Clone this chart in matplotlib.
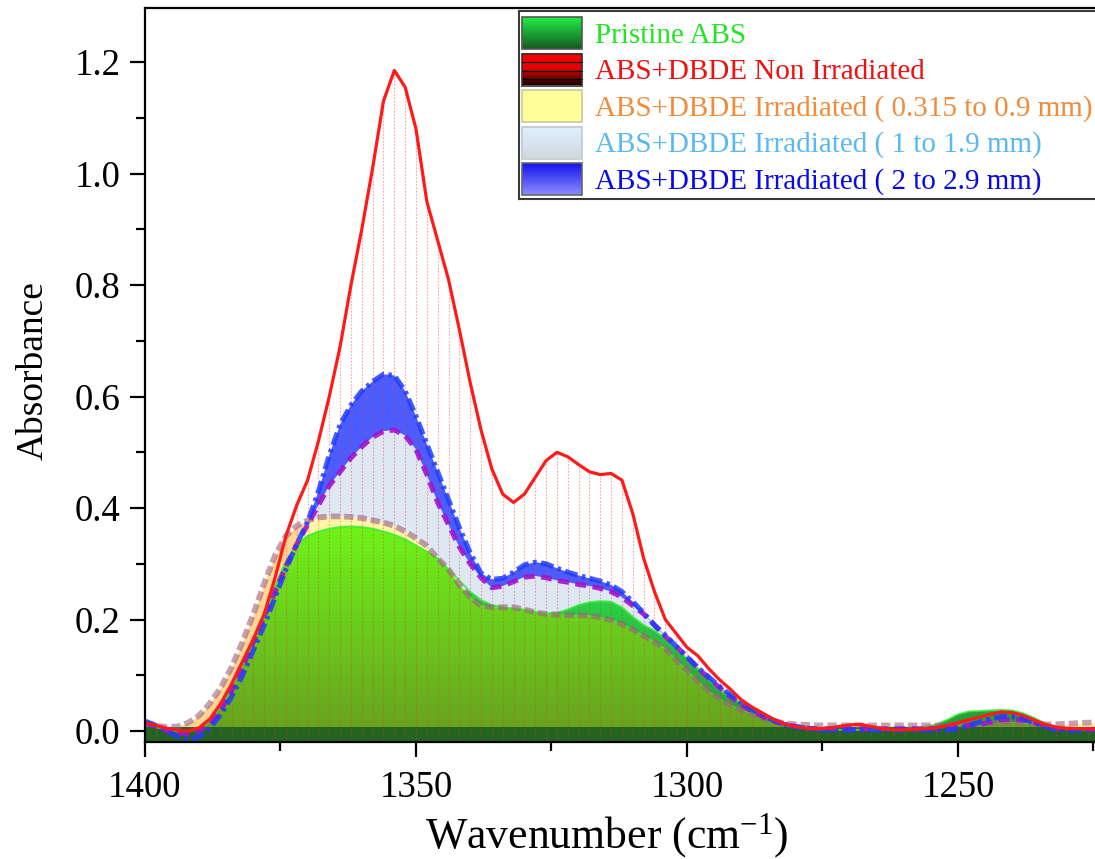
import numpy as np
import matplotlib
matplotlib.use("Agg")
import matplotlib.pyplot as plt
from matplotlib.colors import LinearSegmentedColormap, to_rgb
from matplotlib.patches import Rectangle
from matplotlib.ticker import MultipleLocator, FormatStrFormatter

plt.rcParams["font.family"] = ["Liberation Serif", "DejaVu Serif"]
plt.rcParams["mathtext.fontset"] = "custom"
plt.rcParams["mathtext.rm"] = "Liberation Serif"
plt.rcParams["mathtext.it"] = "Liberation Serif:italic"

# ---------------------------------------------------------------- data
# sampling grid (cm^-1), 1400 -> 1224 every 2 cm^-1
wavenumber = np.arange(1400, 1223, -2)

pristine_abs = np.array([
    .012, .007, .002, -.001, -.001, .004, .018, .045, .080, .120,
    .160, .205, .260, .305, .335, .350, .358, .363, .366, .367,
    .366, .363, .358, .352, .344, .333, .322, .310, .290, .270,
    .250, .235, .226, .222, .220, .218, .214, .211, .212, .218,
    .226, .231, .233, .232, .222, .205, .190, .180, .166, .148,
    .130, .112, .092, .074, .060, .050, .040, .031, .022, .014,
    .009, .005, .003, .002, .002, .002, .002, .002, .002, .002,
    .003, .005, .008, .012, .020, .030, .035, .036, .037, .038,
    .037, .032, .024, .014, .007, .004, .003, .002, .002])

non_irradiated = np.array([
    .015, .010, .005, .001, .000, .006, .022, .050, .085, .125,
    .165, .210, .275, .350, .405, .450, .520, .600, .690, .800,
    .900, 1.010, 1.130, 1.185, 1.155, 1.080, .950, .880, .810, .720,
    .625, .540, .470, .425, .410, .425, .455, .485, .500, .492,
    .478, .465, .460, .462, .450, .390, .310, .250, .200, .175,
    .150, .135, .112, .092, .075, .056, .043, .032, .021, .013,
    .008, .005, .004, .005, .008, .011, .012, .008, .004, .002,
    .002, .003, .004, .006, .010, .015, .020, .025, .030, .034,
    .033, .028, .020, .012, .007, .005, .004, .004, .004])

irr_0315_09 = np.array([
    .014, .010, .007, .008, .015, .028, .050, .078, .115, .160,
    .210, .265, .315, .350, .368, .378, .383, .385, .385, .384,
    .382, .378, .374, .368, .358, .346, .332, .310, .290, .262,
    .240, .225, .222, .222, .222, .218, .213, .210, .209, .208,
    .208, .207, .204, .199, .192, .182, .171, .160, .148, .128,
    .110, .090, .072, .058, .047, .038, .031, .024, .018, .014,
    .012, .011, .010, .010, .010, .010, .010, .010, .010, .010,
    .010, .010, .010, .010, .010, .011, .012, .013, .014, .015,
    .015, .014, .013, .012, .012, .013, .014, .015, .015])

irr_1_19 = np.array([
    .015, .008, .001, -.004, -.005, .000, .013, .038, .072, .115,
    .160, .205, .250, .295, .335, .370, .405, .440, .465, .490,
    .510, .527, .538, .540, .530, .505, .460, .410, .370, .330,
    .300, .275, .257, .260, .268, .276, .278, .275, .270, .267,
    .263, .260, .256, .250, .240, .225, .210, .190, .170, .152,
    .133, .113, .095, .078, .062, .048, .036, .026, .018, .012,
    .008, .005, .004, .004, .004, .004, .004, .004, .004, .004,
    .004, .004, .004, .005, .006, .008, .010, .012, .016, .020,
    .022, .020, .016, .010, .005, .003, .003, .003, .003])

irr_2_29 = np.array([
    .018, .010, .000, -.010, -.016, -.010, .005, .030, .062, .100,
    .145, .190, .240, .290, .335, .375, .430, .495, .550, .585,
    .610, .627, .640, .638, .610, .565, .515, .465, .415, .365,
    .320, .283, .272, .274, .285, .298, .303, .300, .292, .285,
    .279, .274, .269, .262, .250, .232, .212, .190, .172, .152,
    .133, .114, .097, .080, .065, .051, .039, .028, .019, .012,
    .008, .005, .003, .002, .002, .002, .002, .002, .002, .002,
    .002, .002, .002, .002, .002, .004, .010, .016, .022, .026,
    .026, .022, .015, .008, .003, .001, .001, .002, .002])

labels = ["Pristine ABS",
          "ABS+DBDE Non Irradiated",
          "ABS+DBDE Irradiated ( 0.315 to 0.9 mm)",
          "ABS+DBDE Irradiated ( 1 to 1.9 mm)",
          "ABS+DBDE Irradiated ( 2 to 2.9 mm)"]
label_colors = ["#22e622", "#f01010", "#f08c3c", "#5ab9f0", "#0a0ae6"]

YMIN, YMAX = -0.0197, 1.297
XL, XR = 1400, 1224.35

# ---------------------------------------------------------------- figure
W, H = 1095, 859
fig = plt.figure(figsize=(W / 100, H / 100), dpi=100)
ax = fig.add_axes([145 / W, 1 - 742 / H, 952 / W, 734 / H])
ax.set_xlim(XL, XR)
ax.set_ylim(YMIN, YMAX)

x = wavenumber


def gradient_fill(lower, upper, c_bot, c_top, y_bot, y_top, z):
    coll = ax.fill_between(x, lower, upper, facecolor="none",
                           edgecolor="none", zorder=z)
    path = coll.get_paths()[0]
    cmap = LinearSegmentedColormap.from_list("grad", [c_bot, c_top])
    grad = np.linspace(0, 1, 256).reshape(-1, 1)
    im = ax.imshow(grad, cmap=cmap, origin="lower", aspect="auto",
                   extent=(x.min(), x.max(), y_bot, y_top), zorder=z,
                   interpolation="bilinear")
    im.set_clip_path(path, ax.transData)


base = np.full_like(x, YMIN, dtype=float)

# light-blue area (1 to 1.9 mm)
ax.fill_between(x, base, irr_1_19, color="#dde8f3", lw=0, zorder=1.0)
# blue band between 1-1.9 mm and 2-2.9 mm
ax.fill_between(x, irr_1_19, irr_2_29, where=irr_2_29 >= irr_1_19,
                interpolate=True, color="#3246ff", alpha=0.88, lw=0, zorder=1.1)
# pale-yellow area (0.315 to 0.9 mm)
ax.fill_between(x, base, irr_0315_09, color="#fff7a8", lw=0, zorder=1.2)
# peach tint on the rising edge
others = np.maximum.reduce([irr_1_19, irr_2_29, pristine_abs])
ax.fill_between(x, np.minimum(others, irr_0315_09), irr_0315_09,
                where=(x >= 1366), color="#ffcf90", alpha=0.85, lw=0,
                zorder=1.25)
# pristine ABS: green part above the yellow curve
gradient_fill(irr_0315_09, np.maximum(pristine_abs, irr_0315_09),
              (0.15, 0.60, 0.22), (0.16, 0.84, 0.27), 0.0, 0.25, 1.3)
# pristine ABS: lime part overlapping the yellow area
gradient_fill(base, np.minimum(pristine_abs, irr_0315_09),
              (0.40, 0.64, 0.12), (0.43, 0.97, 0.10), 0.0, 0.38, 1.4)
# dark-green baseline band
ax.fill_between([XL, XR], [YMIN, YMIN], [0.008, 0.008],
                color="#236423", lw=0, zorder=1.5)

# drop lines of the non-irradiated spectrum
ax.vlines(x, YMIN, non_irradiated, colors="#ff3030", alpha=0.45,
          linewidth=0.8, linestyles=(0, (1.5, 1.5)), zorder=2)

# spectra lines
ax.plot(x, pristine_abs, color="#33ee33", lw=1.4, alpha=0.8, zorder=3)
ax.plot(x, irr_0315_09, color="#a0607e", lw=4.2, alpha=0.6,
        dashes=(1.6, 0.7), zorder=3.1)
ax.plot(x, irr_1_19, color="#a313c9", lw=3.6, alpha=0.9,
        dashes=(2.2, 1.3), zorder=3.2)
ax.plot(x, irr_2_29, color="#1f3dff", lw=3.6, alpha=0.85,
        dashes=(2.6, 0.9, 0.7, 0.9), zorder=3.3)
ax.plot(x, non_irradiated, color="#ff1a1a", lw=2.3, zorder=3.4,
        solid_joinstyle="round")

ax.set_xlim(XL, XR)
ax.set_ylim(YMIN, YMAX)

# ---------------------------------------------------------------- axes style
for side in ["left", "bottom", "top", "right"]:
    ax.spines[side].set_linewidth(1.6)
    ax.spines[side].set_zorder(5)
ax.xaxis.set_major_locator(MultipleLocator(50))
ax.xaxis.set_minor_locator(MultipleLocator(25))
ax.yaxis.set_major_locator(MultipleLocator(0.2))
ax.yaxis.set_minor_locator(MultipleLocator(0.1))
ax.yaxis.set_major_formatter(FormatStrFormatter("%.1f"))
ax.tick_params(which="major", direction="out", length=10.8, width=1.6,
               labelsize=26.5, top=False, right=False)
ax.tick_params(which="minor", direction="out", length=6.5, width=1.6,
               top=False, right=False)
ax.tick_params(axis="x", which="major", pad=10)
ax.tick_params(axis="y", which="major", pad=7)

ax.set_xlabel(r"Wavenumber (cm$^{-1}$)", fontsize=31.5, va="baseline")
ax.xaxis.set_label_coords((607 - 145) / 952, -(848 - 742) / 734)
ax.set_ylabel("Absorbance", fontsize=27, va="center", ha="center")
ax.yaxis.set_label_coords((33 - 145) / 952, (742 - 371) / 734)

# ---------------------------------------------------------------- legend
L0, T0, B0, R0 = 519, 11, 199, 1100
lax = fig.add_axes([L0 / W, 1 - B0 / H, (R0 - L0) / W, (B0 - T0) / H],
                   zorder=10)
lax.set_facecolor("white")
lax.set_xticks([])
lax.set_yticks([])
for sp in lax.spines.values():
    sp.set_linewidth(1.5)
    sp.set_edgecolor("#3a3a3a")

row_centers = [33, 69.5, 106, 142.5, 179]
px0, px1, half = 522, 582, 16


def vgrad(stops, n=64):
    pos = np.linspace(0, 1, n)
    cols = np.array([to_rgb(c) for _, c in stops])
    ps = np.array([p for p, _ in stops])
    arr = np.stack([np.interp(pos, ps, cols[:, k]) for k in range(3)], axis=-1)
    return arr[:, None, :]


patch_grads = [
    [(0, "#22ee44"), (1, "#145a22")],
    [(0, "#ff0000"), (0.5, "#e00000"), (1, "#1a0000")],
    [(0, "#ffff99"), (1, "#ffff99")],
    [(0, "#e2f1ff"), (1, "#cfd8e0")],
    [(0, "#1414ee"), (1, "#8c8cff")],
]
patch_edges = ["#555555", "#333333", "#c8c8a0", "#c0c8d0", "#666666"]

for i, (cy, lab, tc) in enumerate(zip(row_centers, labels, label_colors)):
    lax.imshow(vgrad(patch_grads[i]), origin="upper", aspect="auto",
               extent=(px0, px1, cy + half, cy - half), zorder=1,
               interpolation="bilinear")
    lax.add_patch(Rectangle((px0, cy - half), px1 - px0, 2 * half,
                            fill=False, edgecolor=patch_edges[i], lw=1.2,
                            zorder=2))
    if i == 1:
        for fr in (0.27, 0.55, 0.8):
            yy = cy - half + fr * 2 * half
            lax.plot([px0, px1], [yy, yy], color="black", lw=0.9, zorder=1.5)
    lax.text(595, cy + 9.6, lab, color=tc, fontsize=21, va="baseline",
             ha="left", zorder=3)

lax.set_xlim(L0, R0)
lax.set_ylim(B0, T0)

fig.savefig("out.png", dpi=100)
